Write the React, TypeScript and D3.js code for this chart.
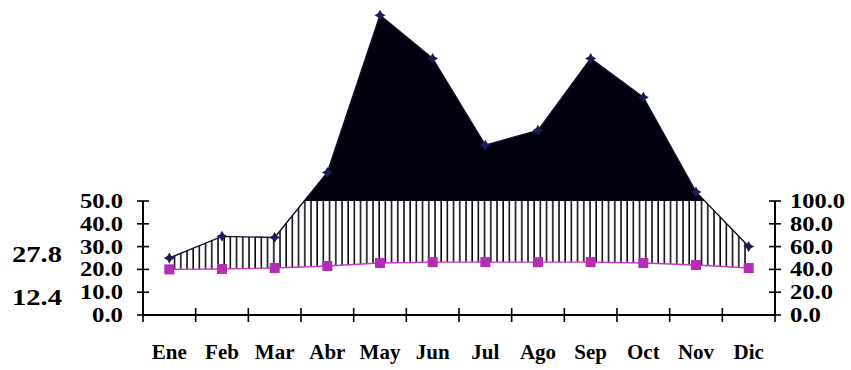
import React from "react";
import * as d3 from "d3";

const months = ["Ene", "Feb", "Mar", "Abr", "May", "Jun", "Jul", "Ago", "Sep", "Oct", "Nov", "Dic"];
const temperature = [20.0, 20.2, 20.6, 21.5, 22.8, 23.2, 23.2, 23.2, 23.2, 22.8, 21.9, 20.6];
const precipitation = [50, 69, 68, 125, 263, 225, 149, 162, 225, 191, 108, 60];
const leftTicks = [0, 10, 20, 30, 40, 50];
const rightTicks = [0, 20, 40, 60, 80, 100];
const sideNotes = [
  { text: "27.8", value: 27.8 },
  { text: "12.4", value: 12.4 },
];

const W = 851;
const H = 370;
const X0 = 143;
const X1 = 775;
const Y0 = 315;
const YTOP = 201;
const FONT = "'Liberation Serif', 'Times New Roman', serif";

export default function App() {
  const x = d3.scaleBand<string>().domain(months).range([X0, X1]).padding(0);
  const cx = (m: string) => (x(m) as number) + x.bandwidth() / 2;
  const yT = d3.scaleLinear().domain([0, 50]).range([Y0, YTOP]);
  const yP = d3.scaleLinear().domain([0, 100]).range([Y0, YTOP]);

  const rows = months.map((m, i) => ({ m, t: temperature[i], p: precipitation[i] }));

  const hatchArea = d3
    .area<any>()
    .x((d) => cx(d.m))
    .y0((d) => yT(d.t))
    .y1((d) => yP(d.p))(rows) as string;

  const blackArea = d3
    .area<any>()
    .x((d) => cx(d.m))
    .y0(() => yP(100))
    .y1((d) => yP(d.p))(rows) as string;

  const pLine = d3
    .line<any>()
    .x((d) => cx(d.m))
    .y((d) => yP(d.p))(rows) as string;

  const tLine = d3
    .line<any>()
    .x((d) => cx(d.m))
    .y((d) => yT(d.t))(rows) as string;

  const labelLen = (s: string) => {
    const digits = s.replace(".", "").length;
    return digits * 12 + 7;
  };

  const markerPath = (px: number, py: number) => {
    const s = 5.5;
    const k = 2;
    return `M${px},${py - s} L${px + k},${py - k} L${px + s},${py} L${px + k},${py + k} L${px},${py + s} L${px - k},${py + k} L${px - s},${py} L${px - k},${py - k} Z`;
  };

  return (
    <svg
      width={W}
      height={H}
      style={{ position: "absolute", left: 0, top: 0, background: "#fff" }}
    >
      <defs>
        <pattern id="vhatch" patternUnits="userSpaceOnUse" width={6.2} height={10} x={0}>
          <line x1={1} y1={0} x2={1} y2={10} stroke="#000" strokeWidth={1.5} />
        </pattern>
        <clipPath id="below100">
          <rect x={0} y={YTOP} width={W} height={H} />
        </clipPath>
        <clipPath id="above100">
          <rect x={0} y={0} width={W} height={YTOP} />
        </clipPath>
      </defs>

      {/* humid period hatch */}
      <path d={hatchArea} fill="url(#vhatch)" clipPath="url(#below100)" />
      {/* precipitation above 100 */}
      <path d={blackArea} fill="#02020f" clipPath="url(#above100)" />

      {/* precipitation line */}
      <path d={pLine} fill="none" stroke="#10102a" strokeWidth={1.4} />
      {/* temperature line */}
      <path d={tLine} fill="none" stroke="#c838c8" strokeWidth={1.4} />

      {rows.map((d) => (
        <path key={"pm" + d.m} d={markerPath(cx(d.m), yP(d.p))} fill="#1c1c55" />
      ))}
      {rows.map((d) => (
        <rect
          key={"tm" + d.m}
          x={cx(d.m) - 5}
          y={yT(d.t) - 5}
          width={10}
          height={10}
          fill="#b42db4"
        />
      ))}

      {/* x axis */}
      <line x1={X0} x2={X1} y1={Y0} y2={Y0} stroke="#000" strokeWidth={2} />
      {[...months.map((m) => x(m) as number), X1].map((tx, i) => (
        <line key={"xt" + i} x1={tx} x2={tx} y1={Y0 - 7} y2={Y0 + 7} stroke="#000" strokeWidth={1.6} />
      ))}
      {months.map((m) => (
        <text
          key={"xl" + m}
          x={cx(m)}
          y={359}
          textAnchor="middle"
          fontFamily={FONT}
          fontWeight="bold"
          fontSize={21}
          fill="#000"
        >
          {m}
        </text>
      ))}

      {/* left axis */}
      <line x1={X0} x2={X0} y1={YTOP} y2={Y0} stroke="#000" strokeWidth={2} />
      {leftTicks.map((t) => (
        <line key={"lt" + t} x1={X0 - 6} x2={X0 + 6} y1={yT(t)} y2={yT(t)} stroke="#000" strokeWidth={1.6} />
      ))}
      {leftTicks.map((t) => {
        const s = t.toFixed(1);
        return (
          <text
            key={"ll" + t}
            x={123}
            y={yT(t) + 7}
            textAnchor="end"
            fontFamily={FONT}
            fontWeight="bold"
            fontSize={21}
            textLength={labelLen(s)}
            lengthAdjust="spacingAndGlyphs"
            fill="#000"
          >
            {s}
          </text>
        );
      })}

      {/* right axis */}
      <line x1={X1} x2={X1} y1={YTOP} y2={Y0} stroke="#000" strokeWidth={2} />
      {rightTicks.map((t) => (
        <line key={"rt" + t} x1={X1 - 6} x2={X1 + 6} y1={yP(t)} y2={yP(t)} stroke="#000" strokeWidth={1.6} />
      ))}
      {rightTicks.map((t) => {
        const s = t.toFixed(1);
        return (
          <text
            key={"rl" + t}
            x={790}
            y={yP(t) + 7}
            textAnchor="start"
            fontFamily={FONT}
            fontWeight="bold"
            fontSize={21}
            textLength={labelLen(s)}
            lengthAdjust="spacingAndGlyphs"
            fill="#000"
          >
            {s}
          </text>
        );
      })}

      {/* side notes (max / min temperatures) */}
      {sideNotes.map((n, i) => (
        <text
          key={"sn" + i}
          x={12}
          y={i === 0 ? 262 : 305}
          fontFamily={FONT}
          fontWeight="bold"
          fontSize={24}
          textLength={50}
          lengthAdjust="spacingAndGlyphs"
          fill="#000"
        >
          {n.text}
        </text>
      ))}
    </svg>
  );
}
